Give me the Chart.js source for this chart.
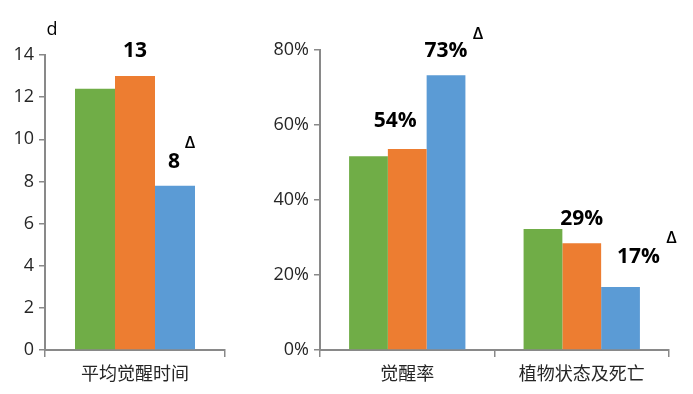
<!DOCTYPE html>
<html>
<head>
<meta charset="utf-8">
<script src="https://cdn.jsdelivr.net/npm/chart.js@4.4.1/dist/chart.umd.min.js"></script>
<style>
  html, body { margin:0; padding:0; background:#fff; }
  canvas { position:absolute; top:0; }
</style>
</head>
<body>
<canvas id="c1" width="240" height="394" style="left:0"></canvas>
<canvas id="c2" width="443" height="394" style="left:250px"></canvas>
<script>
// ---- data ----
const seriesNames = ['组1', '组2', '组3'];
const leftCategories = ['平均觉醒时间'];
const leftGreen = [12.4];
const leftOrange = [13.0];
const leftBlue = [7.8];
const leftOrangeLabels = ['13'];
const leftBlueLabels = ['8'];
const leftMarks = ['Δ'];
const leftUnit = 'd';

const rightCategories = ['觉醒率', '植物状态及死亡'];
const rightGreen = [51.7, 32.3];
const rightOrange = [53.6, 28.5];
const rightBlue = [73.3, 16.8];
const rightOrangeLabels = ['54%', '29%'];
const rightBlueLabels = ['73%', '17%'];
const rightMarks = ['Δ', 'Δ'];

// ---- styles ----
const GREEN = '#70AD47', ORANGE = '#ED7D31', BLUE = '#5B9BD5';
const AXIS = '#898989', TEXT = '#262626';
const FONT = '"Open Sans", "Noto Sans CJK SC", sans-serif';
const LABEL_FONT = 'bold 21px ' + FONT;
const MARK_FONT = '600 17px ' + FONT;

const annot = {
  id: 'annot',
  afterDatasetsDraw(chart, args, opts) {
    const ctx = chart.ctx;
    ctx.save();
    ctx.textAlign = 'center';
    ctx.textBaseline = 'middle';
    ctx.fillStyle = '#000';
    (opts.items || []).forEach(it => {
      const bar = chart.getDatasetMeta(it.ds).data[it.i];
      ctx.font = it.font;
      ctx.fillText(it.text, bar.x + it.dx, bar.y + it.dy);
    });
    if (opts.unit) {
      ctx.font = '18px ' + FONT;
      ctx.fillStyle = '#000';
      ctx.fillText(opts.unit, chart.chartArea.left + 7, chart.chartArea.top - 25);
    }
    ctx.restore();
  }
};

function makeDatasets(g, o, b) {
  return [
    { label: seriesNames[0], data: g, backgroundColor: GREEN },
    { label: seriesNames[1], data: o, backgroundColor: ORANGE },
    { label: seriesNames[2], data: b, backgroundColor: BLUE }
  ].map(d => Object.assign(d, { categoryPercentage: 2/3, barPercentage: 1.0, borderWidth: 0 }));
}

function makeOptions(yMax, step, yWidth, pad, isPct, items, unit) {
  return {
    responsive: false,
    animation: false,
    layout: { padding: pad },
    plugins: { legend: { display: false }, tooltip: { enabled: false }, annot: { items, unit } },
    scales: {
      x: {
        afterFit(s) { s.height = 44; },
        border: { color: AXIS, width: 2 },
        grid: { drawOnChartArea: false, drawTicks: true, tickLength: 7, color: AXIS, lineWidth: 1.5 },
        ticks: { color: TEXT, font: { family: FONT, size: 18 }, padding: 7, maxRotation: 0 }
      },
      y: {
        min: 0, max: yMax,
        afterFit(s) { s.width = yWidth; },
        border: { color: AXIS, width: 2 },
        grid: { drawOnChartArea: false, drawTicks: true, tickLength: 6, color: AXIS, lineWidth: 1.5 },
        ticks: {
          stepSize: step, color: TEXT, padding: 5,
          font: { family: FONT, size: 18 },
          callback: v => isPct ? v + '%' : v
        }
      }
    }
  };
}

// left chart annotations
const leftItems = [];
leftOrangeLabels.forEach((t, i) => leftItems.push({ ds: 1, i, text: t, font: LABEL_FONT, dx: 0, dy: -25 }));
leftBlueLabels.forEach((t, i) => leftItems.push({ ds: 2, i, text: t, font: LABEL_FONT, dx: -1, dy: -24 }));
leftMarks.forEach((t, i) => leftItems.push({ ds: 2, i, text: t, font: MARK_FONT, dx: 15, dy: -42 }));

new Chart(document.getElementById('c1'), {
  type: 'bar',
  data: { labels: leftCategories, datasets: makeDatasets(leftGreen, leftOrange, leftBlue) },
  options: makeOptions(14, 2, 45, { top: 55, left: 0, right: 15, bottom: 0 }, false, leftItems, leftUnit),
  plugins: [annot]
});

// right chart annotations
const oDx = [-12, 0], oDy = [-28, -24];
const bDx = [0, 18], bDy = [-24, -30];
const mDx = [32, 51], mDy = [-41, -49];
const rightItems = [];
rightOrangeLabels.forEach((t, i) => rightItems.push({ ds: 1, i, text: t, font: LABEL_FONT, dx: oDx[i], dy: oDy[i] }));
rightBlueLabels.forEach((t, i) => rightItems.push({ ds: 2, i, text: t, font: LABEL_FONT, dx: bDx[i], dy: bDy[i] }));
rightMarks.forEach((t, i) => rightItems.push({ ds: 2, i, text: t, font: MARK_FONT, dx: mDx[i], dy: mDy[i] }));

new Chart(document.getElementById('c2'), {
  type: 'bar',
  data: { labels: rightCategories, datasets: makeDatasets(rightGreen, rightOrange, rightBlue) },
  options: makeOptions(80, 20, 70, { top: 50, left: 0, right: 24, bottom: 0 }, true, rightItems, null),
  plugins: [annot]
});
</script>
</body>
</html>
